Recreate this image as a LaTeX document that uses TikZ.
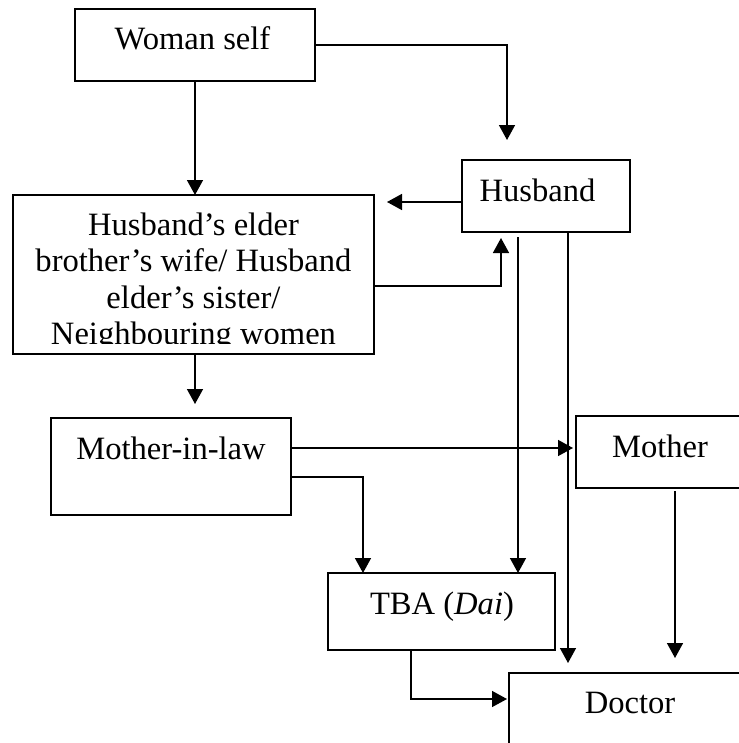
\documentclass[tikz,border=0pt]{standalone}
\usepackage{fontspec}
\setmainfont{Liberation Serif}
\usetikzlibrary{arrows.meta,calc}
\begin{document}
\begin{tikzpicture}[x=1bp,y=-1bp,
  box/.style={draw, line width=1.7bp, rectangle, inner sep=0pt, outer sep=0pt, anchor=north west},
  lbl/.style={anchor=base, inner sep=0pt, font=\fontsize{32.7}{36}\selectfont},
  conn/.style={line width=1.5bp, -{Triangle[length=15bp,width=16bp]}}]
\useasboundingbox (0,0) rectangle (739,743);
\clip (0,0) rectangle (739,743);
% boxes
\node[box, minimum width=240bp, minimum height=72bp] (ws) at (75,9) {};
\node[box, minimum width=168bp, minimum height=72bp] (hb) at (462,160) {};
\node[box, minimum width=361bp, minimum height=159bp] (big) at (13,195) {};
\node[box, minimum width=240bp, minimum height=97bp] (mil) at (51,418) {};
\node[box, minimum width=200bp, minimum height=72bp] (mo) at (576,416) {};
\node[box, minimum width=227bp, minimum height=77bp] (tba) at (328,573) {};
\node[box, minimum width=260bp, minimum height=110bp] (doc) at (509,673) {};
% texts
\node[lbl] (tws) at (192.5,50) {Woman self};
\node[lbl] (thb) at (537.5,201) {Husband};
\begin{scope}
\clip (13,195) rectangle (374,343.5);
\node[lbl] (tb1) at (193.5,235) {Husband’s elder};
\node[lbl] (tb2) at (193.5,271.5) {brother’s wife/ Husband};
\node[lbl] (tb3) at (193.5,308) {elder’s sister/};
\node[lbl] (tb4) at (193.5,344.5) {Neighbouring women};
\end{scope}
\node[lbl] (tmil) at (171,459) {Mother-in-law};
\node[lbl] (tmo) at (660,457) {Mother};
\node[lbl] (ttba) at (442,614) {TBA (\textit{Dai})};
\node[lbl] (tdoc) at (630,713) {Doctor};
% coordinates
\coordinate (tipH) at (507,140);
\coordinate (tipB) at (387,202);
\coordinate (tipHB) at (501,238);
\coordinate (startT) at (518,237);
\coordinate (tipD) at (568,663);
\coordinate (tipM) at (195,404);
\coordinate (tipMo) at (573,448);
\coordinate (bendT) at (363,477);
\coordinate (tipMD) at (675,658);
\coordinate (bendD) at (411,699);
\coordinate (tipDoc) at (507,699);
\coordinate (hbL) at (0,202);
\coordinate (bigR) at (0,286);
% connectors
\draw[conn] (ws.east) -| (tipH);
\draw[conn] (ws.south) -- (ws.south |- big.north);
\draw[conn] (hb.west |- hbL) -- (tipB);
\draw[conn] (big.east |- bigR) -| (tipHB);
\draw[conn] (startT) -- (startT |- tba.north);
\draw[conn] (hb.south -| tipD) -- (tipD);
\draw[conn] (big.south -| tipM) -- (tipM);
\draw[conn] (mil.east |- tipMo) -- (tipMo);
\draw[conn] (mil.east |- bendT) -| (bendT |- tba.north);
\draw[conn] ([yshift=-3bp]mo.south -| tipMD) -- (tipMD);
\draw[conn] (tba.south -| bendD) |- (tipDoc);
\end{tikzpicture}
\end{document}
